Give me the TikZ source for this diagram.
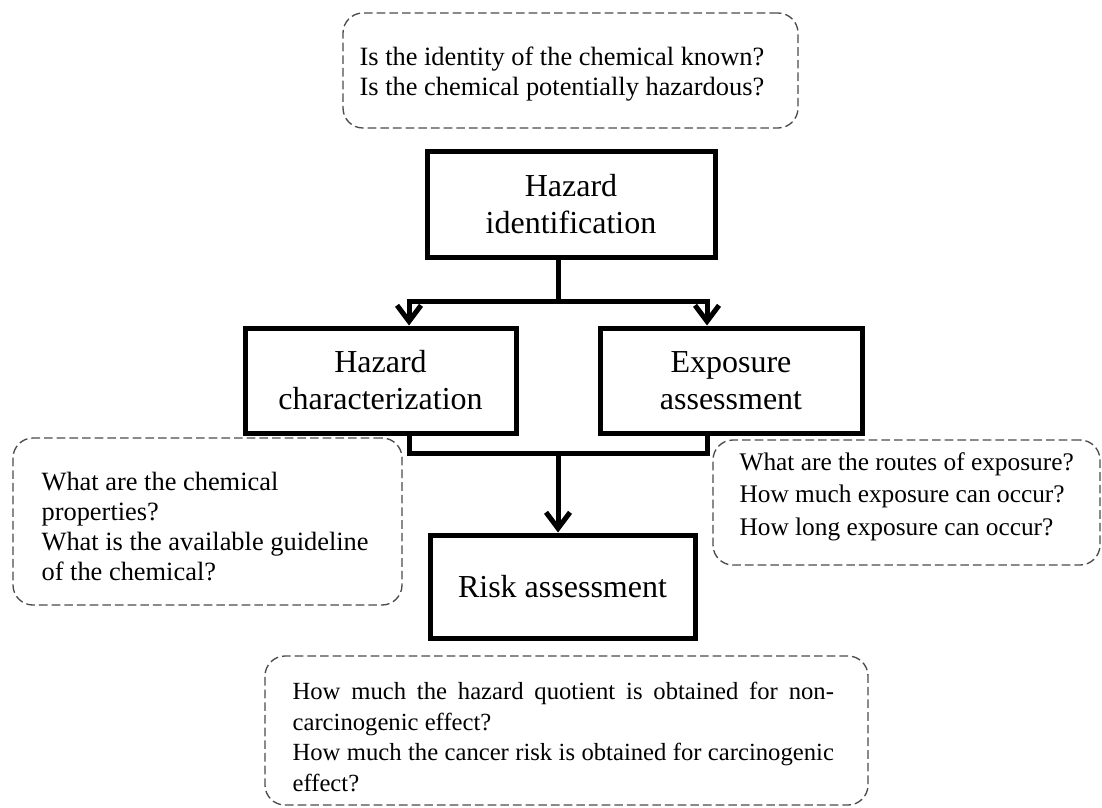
\documentclass[tikz,border=0pt]{standalone}
\usepackage{fontspec}
\setmainfont{Liberation Serif}
\usetikzlibrary{arrows.meta,calc}
\begin{document}
\begin{tikzpicture}[x=0.75pt,y=-0.75pt,
  mbox/.style={draw=black, line width=3.75pt, inner sep=0pt, align=center,
    font=\fontsize{24}{27.75}\selectfont},
  qbox/.style={draw=black!70, line width=1pt, dash pattern=on 6.5pt off 3pt,
    rounded corners=15pt, inner sep=0pt},
  qtext/.style={anchor=west, align=left, inner sep=0pt, text=black},
  conn/.style={draw=black, line width=3.75pt, line join=miter},
  arr/.style={conn, -{Straight Barb[length=12pt,width=18pt,line join=miter]}}
]
\fill[white] (0,0) rectangle (1102,807);
\useasboundingbox (0,0) rectangle (1102,807);

% question boxes
\node[qbox, minimum width=341.25pt, minimum height=86.25pt] (qtop) at (570.5,70.5) {};
\node[qtext, font=\fontsize{19.8}{22.5}\selectfont] (ttop) at ($(qtop.west)+(17,3.5)$)
  {Is the identity of the chemical known?\\Is the chemical potentially hazardous?};

\node[qbox, minimum width=291.75pt, minimum height=125.25pt] (qleft) at (207.5,521.5) {};
\node[qtext, font=\fontsize{19.8}{22.7}\selectfont] (tleft) at ($(qleft.west)+(29,5)$)
  {What are the chemical\\properties?\\What is the available guideline\\of the chemical?};

\node[qbox, minimum width=290.25pt, minimum height=93.75pt] (qright) at (906.5,502.5) {};
\node[qtext, font=\fontsize{19}{24.4}\selectfont] (tright) at ($(qright.west)+(27,-6)$)
  {What are the routes of exposure?\\How much exposure can occur?\\How long exposure can occur?};

\node[qbox, minimum width=452.25pt, minimum height=111.75pt] (qbot) at (566.5,730.5) {};
\node[qtext, align=justify, text width=406pt, font=\fontsize{18.5}{22.9}\selectfont] (tbot) at ($(qbot.west)+(28,6.5)$)
  {\parindent=0pt \hyphenpenalty=10000 How much the hazard quotient is obtained for non-\linebreak carcinogenic effect?\par
   How much the cancer risk is obtained for carcinogenic\linebreak effect?};

% main boxes
\node[mbox, minimum width=216pt, minimum height=79.5pt] (hi) at (571,204) {Hazard\\identification};
\node[mbox, minimum width=203.25pt, minimum height=78.75pt] (hc) at (380.5,380.5) {Hazard\\characterization};
\node[mbox, minimum width=196.5pt, minimum height=78.75pt] (ea) at (731,380.5) {Exposure\\assessment};
\node[mbox, minimum width=198.75pt, minimum height=77.25pt] (risk) at (562.5,586.5) {Risk assessment};

% connectors
\coordinate (tm) at (558,257);
\coordinate (tl) at (409,301);
\coordinate (tr) at (707,301);
\coordinate (bl) at (409,453);
\coordinate (br) at (707,453);
\coordinate (bm) at (558,453);

\draw[arr] (tm |- hi.south) |- (tl) -- (tl |- hc.north);
\draw[arr] (tm |- hi.south) |- (tr) -- (tr |- ea.north);
\draw[conn] (bl |- hc.south) -- (bl) -- (br) -- (br |- ea.south);
\draw[arr] (bm) -- (bm |- risk.north);
\end{tikzpicture}
\end{document}
